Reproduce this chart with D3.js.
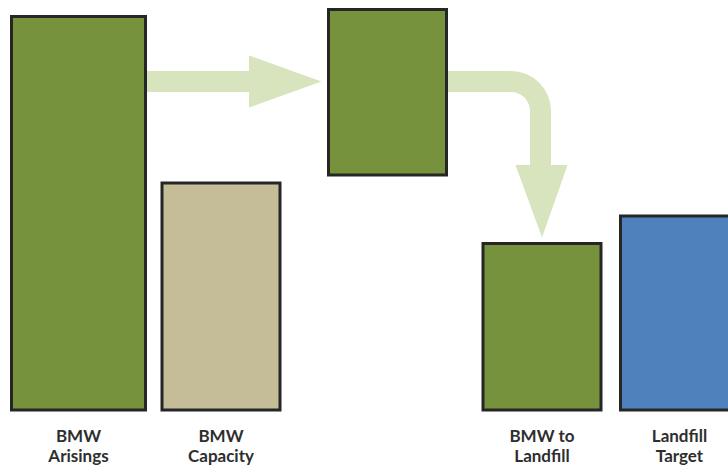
<!DOCTYPE html>
<html>
<head>
<meta charset="utf-8">
<script src="https://cdn.jsdelivr.net/npm/d3@7"></script>
<style>
  html, body { margin: 0; padding: 0; background: #ffffff; overflow: hidden; }
  svg { display: block; }
</style>
</head>
<body>
<svg id="chart" width="728" height="466"></svg>
<script>
// Biodegradable municipal waste flow: arisings, treatment capacity,
// the surplus that cannot be treated, and what ends up in landfill.
const categories = ["arisings", "capacity", "surplus", "landfill", "target"];
const labels = [["BMW", "Arisings"], ["BMW", "Capacity"], [], ["BMW to", "Landfill"], ["Landfill", "Target"]];
const lowValues  = [0, 0, 235, 0, 0];          // bar bottoms (surplus floats above capacity)
const highValues = [393.5, 227, 400.5, 166.5, 194]; // bar tops
const fills = ["#76923c", "#c4bd97", "#76923c", "#76923c", "#4f81bd"];

const svg = d3.select("#chart");

const y = d3.scaleLinear().domain([0, 400]).range([410, 10]);
// bar centres along the flow
const xc = d3.scaleOrdinal().domain(categories).range([78.5, 221, 387.5, 542, 679.5]);
const w  = d3.scaleOrdinal().domain(categories).range([134, 118, 118, 118, 118]);

const bars = categories.map((c, i) => ({
  key: c, lo: lowValues[i], hi: highValues[i], fill: fills[i], label: labels[i],
  x0: xc(c) - w(c) / 2, x1: xc(c) + w(c) / 2
}));
const byKey = Object.fromEntries(bars.map(b => [b.key, b]));

// flow arrows
const arrowColor = "#d7e4bd";
const shaftTop = 71, shaftBot = 92;
const g = svg.append("g");

// straight arrow from arisings into the surplus box
{
  const a = byKey.arisings, s = byKey.surplus;
  const headStart = 249, tip = s.x0 - 7, mid = (shaftTop + shaftBot) / 2;
  const p = d3.path();
  p.moveTo(a.x1, shaftTop);
  p.lineTo(headStart, shaftTop);
  p.lineTo(headStart, 55.5);
  p.lineTo(tip, mid);
  p.lineTo(headStart, 107.5);
  p.lineTo(headStart, shaftBot);
  p.lineTo(a.x1, shaftBot);
  p.closePath();
  g.append("path").attr("d", p.toString()).attr("fill", arrowColor);
}

// bent arrow from the surplus down onto landfill
{
  const s = byKey.surplus, l = byKey.landfill;
  const cx = xc("landfill");
  const outerX = cx + 9, innerX = cx - 12;   // vertical shaft edges
  const rOut = 40, rIn = rOut - (shaftBot - shaftTop);
  const headTop = 165, tip = y(l.hi) - 6;
  const p = d3.path();
  p.moveTo(s.x1, shaftTop);
  p.lineTo(outerX - rOut, shaftTop);
  p.arcTo(outerX, shaftTop, outerX, shaftTop + rOut, rOut);
  p.lineTo(outerX, headTop);
  p.lineTo(cx + 25.5, headTop);
  p.lineTo(cx, tip);
  p.lineTo(cx - 26.5, headTop);
  p.lineTo(innerX, headTop);
  p.lineTo(innerX, shaftBot + rIn);
  p.arcTo(innerX, shaftBot, innerX - rIn, shaftBot, rIn);
  p.lineTo(s.x1, shaftBot);
  p.closePath();
  g.append("path").attr("d", p.toString()).attr("fill", arrowColor);
}

// bars
svg.append("g").selectAll("rect")
  .data(bars)
  .join("rect")
  .attr("x", d => d.x0)
  .attr("y", d => y(d.hi))
  .attr("width", d => d.x1 - d.x0)
  .attr("height", d => y(d.lo) - y(d.hi))
  .attr("fill", d => d.fill)
  .attr("stroke", "#262626")
  .attr("stroke-width", 3);

// category labels
const lab = svg.append("g")
  .attr("font-family", "Lato, 'Open Sans', sans-serif")
  .attr("font-weight", "bold")
  .attr("font-size", 17)
  .attr("fill", "#2e2e2e")
  .attr("text-anchor", "middle");

bars.filter(b => b.label.length).forEach(b => {
  const t = lab.append("text").attr("x", xc(b.key)).attr("y", 441.5);
  b.label.forEach((line, i) => {
    t.append("tspan").attr("x", xc(b.key)).attr("dy", i === 0 ? 0 : 20).text(line);
  });
});
</script>
</body>
</html>
